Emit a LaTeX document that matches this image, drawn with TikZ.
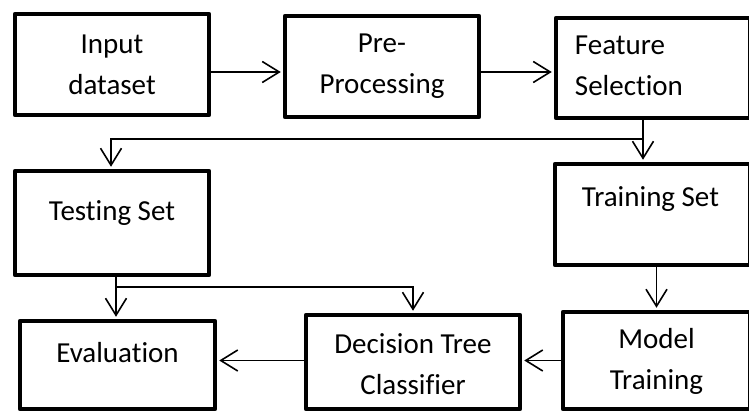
\documentclass[tikz,border=0pt]{standalone}
\usepackage{fontspec}
\setmainfont{Carlito}[RawFeature={-liga;-clig;-dlig}]
\usetikzlibrary{arrows.meta}
\tikzset{
  box/.style={draw=black, line width=4.5pt, line join=round, inner sep=0pt, fill=none},
  txt/.style={font=\fontsize{29}{41}\selectfont, align=center, inner sep=0pt},
  arr/.style={line width=1.6pt, -{Straight Barb[length=17pt,width=21pt,line width=1.6pt]}, shorten >=2pt},
  conn/.style={line width=1.6pt}
}
\begin{document}
\begin{tikzpicture}[x=1pt,y=1pt]
\useasboundingbox (0,0) rectangle (749,-412);
\clip (0,0) rectangle (749,-412);
\fill[white] (0,0) rectangle (749,-412);
% boxes
\node[box, minimum width=194pt, minimum height=101pt] (in) at (112,-64.5) {};
\node[txt] (intxt) at (in.center) {Input\\dataset};
\node[box, minimum width=194pt, minimum height=101pt] (pre) at (382,-66.5) {};
\node[txt] (pretxt) at (pre.center) {Pre-\\Processing};
\node[box, minimum width=194pt, minimum height=100pt] (feat) at (653,-68) {};
\node[txt, align=left, anchor=west] (feattxt) at ([xshift=21pt,yshift=2pt]feat.west) {Feature\\Selection};
\node[box, minimum width=194pt, minimum height=104pt] (test) at (112,-223) {};
\node[txt] (testtxt) at ([yshift=10pt]test.center) {Testing Set};
\node[box, minimum width=195pt, minimum height=101pt] (train) at (652.5,-214.5) {};
\node[txt] (traintxt) at ([xshift=-2pt,yshift=15pt]train.center) {Training Set};
\node[box, minimum width=195pt, minimum height=88pt] (eval) at (117.5,-365) {};
\node[txt] (evaltxt) at ([yshift=12pt]eval.center) {Evaluation};
\node[box, minimum width=214pt, minimum height=94pt] (dec) at (413,-362) {};
\node[txt] (dectxt) at ([yshift=-2pt]dec.center) {Decision Tree\\Classifier};
\node[box, minimum width=187pt, minimum height=97pt] (model) at (656.5,-360.5) {};
\node[txt] (modeltxt) at ([yshift=-1pt]model.center) {Model\\Training};
% junctions
\coordinate (j1) at (643,-139);
\coordinate (j2) at (111,-139);
\coordinate (j3) at (116,-287);
% connectors
\draw[arr] ([yshift=-7.5pt]in.east) -- ([yshift=-7.5pt]in.east -| pre.west);
\draw[arr] ([yshift=-5.5pt]pre.east) -- ([yshift=-5.5pt]pre.east -| feat.west);
\draw[conn] (feat.south -| j1) -- (j1);
\draw[arr] (j1) -- (train.north -| j1);
\draw[arr] (j1) -- (j2) -- (test.north -| j2);
\draw[arr] (train.south -| model.north) -- (model.north);
\draw[arr] (test.south -| j3) -- (eval.north -| j3);
\draw[arr] (j3) -- (j3 -| dec.north) -- (dec.north);
\draw[arr] (model.west) -- (model.west -| dec.east);
\draw[arr] (model.west -| dec.west) -- (model.west -| eval.east);
\end{tikzpicture}
\end{document}
